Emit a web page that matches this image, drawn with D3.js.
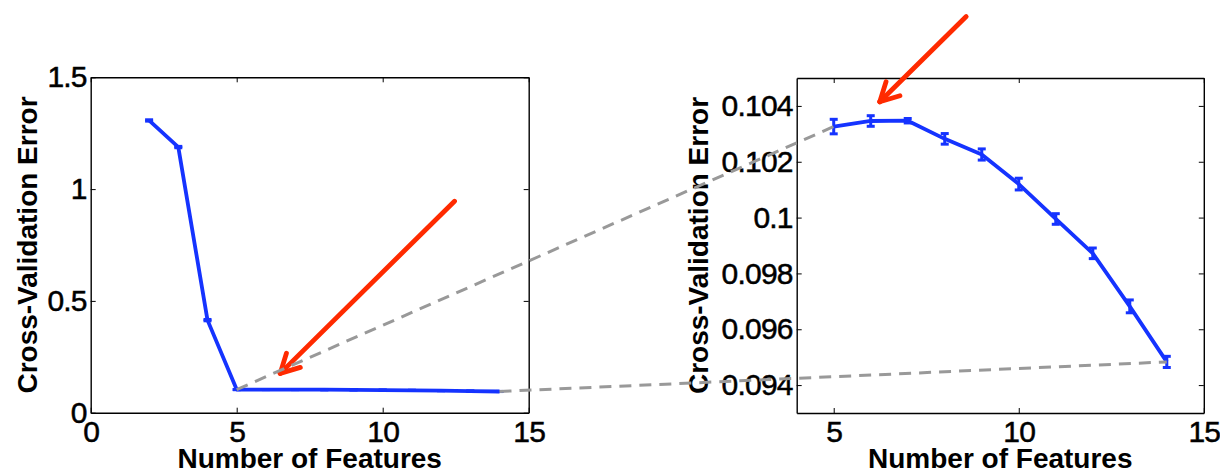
<!DOCTYPE html>
<html>
<head>
<meta charset="utf-8">
<script src="https://cdn.jsdelivr.net/npm/d3@7.9.0/dist/d3.min.js"></script>
<style>
  body { margin: 0; background: #fff; }
  svg { display: block; font-family: "Liberation Sans", Arial, sans-serif; }
</style>
</head>
<body>
<svg id="chart" width="1220" height="474"></svg>
<script>
// number of features and the cross-validation error (full run)
const features = [2, 3, 4, 5, 6, 7, 8, 9, 10, 11, 12, 13, 14];
const cvError = [1.307, 1.188, 0.414, 0.10326, 0.10346, 0.10347, 0.10282, 0.10226, 0.10120, 0.09995, 0.09872, 0.09682, 0.09483];
const cvStd = [0.003, 0.003, 0.003, 0.00026, 0.00019, 0.00008, 0.00019, 0.0002, 0.00021, 0.00019, 0.00019, 0.00023, 0.0002];

// zoomed part: 5..14 features
const zoomFeatures = features.slice(3);
const zoomError = cvError.slice(3);
const zoomStd = cvStd.slice(3);

// ticks
const leftXTicks = [0, 5, 10, 15];
const leftYTicks = [0, 0.5, 1, 1.5];
const leftYLabels = ['0', '0.5', '1', '1.5'];
const rightXTicks = [5, 10, 15];
const rightYTicks = [0.094, 0.096, 0.098, 0.1, 0.102, 0.104];
const rightYLabels = ['0.094', '0.096', '0.098', '0.1', '0.102', '0.104'];

// red arrows, in data units of each panel: [start, tip]
const leftArrow = [[12.46, 0.946], [6.49, 0.176]];
const rightArrow = [[8.58, 0.1072], [6.245, 0.10415]];

const blue = '#1533ff';
const red = '#ff2a00';
const gray = '#999';

const svg = d3.select('#chart');

// scales
const xL = d3.scaleLinear().domain([0, 15]).range([90.7, 528.7]);
const yL = d3.scaleLinear().domain([0, 1.5]).range([412.7, 77.3]);
const xR = d3.scaleLinear().domain([4, 15]).range([796.7, 1203.8]);
const yR = d3.scaleLinear().domain([0.093, 0.105]).range([413, 78]);

function drawAxes(x, y, xTicks, yTicks, yLabels, titleX) {
  const [x0, x1] = x.range();
  const [y0, y1] = y.range();
  const g = svg.append('g');

  g.append('g')
    .attr('transform', `translate(0,${y0})`)
    .call(d3.axisBottom(x).tickValues(xTicks).tickSize(-5).tickSizeOuter(0).tickPadding(8).tickFormat(d3.format('d')));
  g.append('g')
    .attr('transform', `translate(0,${y1})`)
    .call(d3.axisTop(x).tickValues(xTicks).tickSize(-5).tickSizeOuter(0).tickFormat(''));
  g.append('g')
    .attr('transform', `translate(${x0},0)`)
    .call(d3.axisLeft(y).tickValues(yTicks).tickSize(-5).tickSizeOuter(0).tickPadding(4)
      .tickFormat((d, i) => yLabels[i]));
  g.append('g')
    .attr('transform', `translate(${x1},0)`)
    .call(d3.axisRight(y).tickValues(yTicks).tickSize(-5).tickSizeOuter(0).tickFormat(''));

  g.selectAll('.domain').attr('stroke', '#000').attr('stroke-width', 1.4);
  g.selectAll('.tick line').attr('stroke', '#000').attr('stroke-width', 1);
  g.selectAll('g').attr('font-size', null).attr('font-family', null);
  g.selectAll('.tick text')
    .attr('fill', '#000')
    .attr('stroke', '#000')
    .attr('stroke-width', 0.5)
    .attr('font-size', 30)
    .attr('letter-spacing', -0.8)
    .attr('font-family', '"Liberation Sans", Arial, sans-serif');

  // axis titles
  svg.append('text')
    .attr('x', (x0 + x1) / 2)
    .attr('y', 467.5)
    .attr('text-anchor', 'middle')
    .attr('font-weight', 'bold')
    .attr('font-size', 28)
    .text('Number of Features');
  svg.append('text')
    .attr('transform', `translate(${titleX},${(y0 + y1) / 2}) rotate(-90)`)
    .attr('text-anchor', 'middle')
    .attr('font-weight', 'bold')
    .attr('font-size', 28)
    .text('Cross-Validation Error');
}

function drawSeries(x, y, xs, ys, es) {
  const line = d3.line().x(d => x(d[0])).y(d => y(d[1]));
  const pts = xs.map((v, i) => [v, ys[i], es[i]]);
  const g = svg.append('g');
  g.append('path')
    .datum(pts)
    .attr('d', line)
    .attr('fill', 'none')
    .attr('stroke', blue)
    .attr('stroke-width', 3.8)
    .attr('stroke-linejoin', 'round');

  const bars = g.selectAll('.err').data(pts).join('g').attr('class', 'err');
  bars.append('line')
    .attr('x1', d => x(d[0])).attr('x2', d => x(d[0]))
    .attr('y1', d => y(d[1] - d[2])).attr('y2', d => y(d[1] + d[2]))
    .attr('stroke', blue).attr('stroke-width', 3);
  [-1, 1].forEach(s => {
    bars.append('line')
      .attr('x1', d => x(d[0]) - 4).attr('x2', d => x(d[0]) + 4)
      .attr('y1', d => y(d[1] + s * d[2])).attr('y2', d => y(d[1] + s * d[2]))
      .attr('stroke', blue).attr('stroke-width', 3);
  });
}

function drawArrow(x, y, pts) {
  const [sx, sy] = [x(pts[0][0]), y(pts[0][1])];
  const [tx, ty] = [x(pts[1][0]), y(pts[1][1])];
  const ang = Math.atan2(sy - ty, sx - tx);
  const len = 21;
  const g = svg.append('g')
    .attr('stroke', red).attr('stroke-width', 4.8).attr('stroke-linecap', 'round').attr('fill', 'none');
  g.append('line').attr('x1', sx).attr('y1', sy).attr('x2', tx).attr('y2', ty);
  [-0.49, 0.49].forEach(da => {
    g.append('line')
      .attr('x1', tx).attr('y1', ty)
      .attr('x2', tx + len * Math.cos(ang + da))
      .attr('y2', ty + len * Math.sin(ang + da));
  });
}

drawAxes(xL, yL, leftXTicks, leftYTicks, leftYLabels, 37);
drawAxes(xR, yR, rightXTicks, rightYTicks, rightYLabels, 708);

drawSeries(xL, yL, features, cvError, cvStd);
drawSeries(xR, yR, zoomFeatures, zoomError, zoomStd);

drawArrow(xL, yL, leftArrow);
drawArrow(xR, yR, rightArrow);

// dashed lines linking the zoomed range to the right panel
const first = 0, last = zoomFeatures.length - 1;
[first, last].forEach(i => {
  svg.append('line')
    .attr('x1', xL(zoomFeatures[i])).attr('y1', yL(zoomError[i]))
    .attr('x2', xR(zoomFeatures[i])).attr('y2', yR(zoomError[i]))
    .attr('stroke', gray)
    .attr('stroke-width', 3)
    .attr('stroke-dasharray', '12,8');
});
</script>
</body>
</html>
